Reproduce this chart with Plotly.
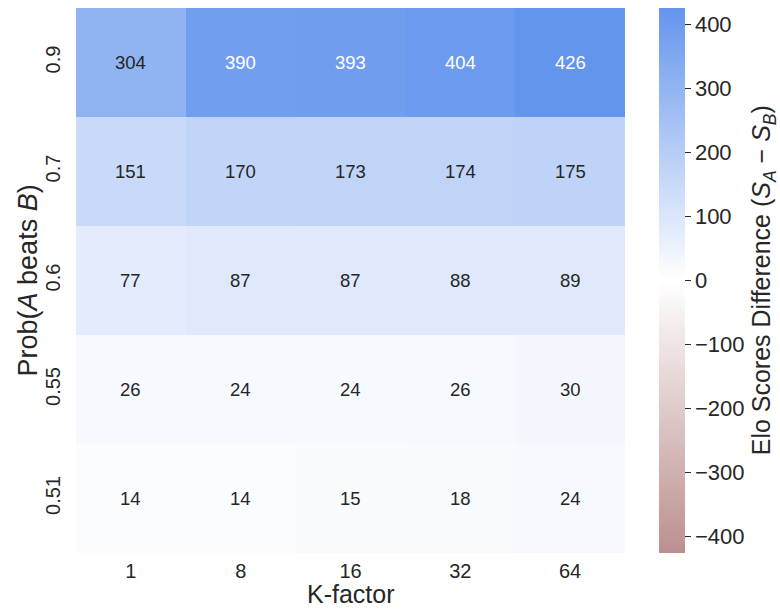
import plotly.graph_objects as go

k_factors = ["1", "8", "16", "32", "64"]
probs = ["0.51", "0.55", "0.6", "0.7", "0.9"]  # bottom to top
row_051 = [14, 14, 15, 18, 24]
row_055 = [26, 24, 24, 26, 30]
row_06 = [77, 87, 87, 88, 89]
row_07 = [151, 170, 173, 174, 175]
row_09 = [304, 390, 393, 404, 426]
z = [row_051, row_055, row_06, row_07, row_09]
cb_ticks = [-400, -300, -200, -100, 0, 100, 200, 300, 400]

vmax = max(max(r) for r in z)
vmin = -vmax

low = (188, 143, 143)
mid = (255, 255, 255)
high = (100, 149, 237)
colorscale = [[0.0, "rgb(188,143,143)"], [0.5, "rgb(255,255,255)"], [1.0, "rgb(100,149,237)"]]

def cell_rgb(v):
    t = (v - vmin) / (vmax - vmin)
    if t <= 0.5:
        a, b, f = low, mid, t / 0.5
    else:
        a, b, f = mid, high, (t - 0.5) / 0.5
    return [(a[i] + (b[i] - a[i]) * f) / 255 for i in range(3)]

def luminance(rgb):
    out = []
    for c in rgb:
        out.append(c / 12.92 if c <= 0.03928 else ((c + 0.055) / 1.055) ** 2.4)
    return 0.2126 * out[0] + 0.7152 * out[1] + 0.0722 * out[2]

FONT = "Liberation Sans, Arial, sans-serif"
TXT = "#262626"

fig = go.Figure()
fig.add_trace(go.Heatmap(
    x=k_factors, y=probs, z=z,
    zmin=vmin, zmax=vmax,
    colorscale=colorscale,
    xgap=0, ygap=0,
    hoverinfo="skip",
    colorbar=dict(
        x=1.062, xanchor="left", xpad=0,
        y=0.5, yanchor="middle", ypad=0,
        len=1, lenmode="fraction",
        thickness=26,
        outlinewidth=0,
        tickvals=cb_ticks,
        ticks="outside", ticklen=6, tickwidth=1, tickcolor=TXT,
        tickfont=dict(family=FONT, size=22, color=TXT),
    ),
))

annotations = []
for yi, p in enumerate(probs):
    for xi, k in enumerate(k_factors):
        v = z[yi][xi]
        col = TXT if luminance(cell_rgb(v)) > 0.408 else "#ffffff"
        annotations.append(dict(
            x=xi, y=yi, xref="x", yref="y", text=str(v), showarrow=False,
            font=dict(family=FONT, size=18.5, color=col),
        ))

# colorbar title
annotations.append(dict(
    x=1.251, y=0.5, xref="paper", yref="paper", xanchor="center", yanchor="middle",
    textangle=-90, showarrow=False, borderpad=0,
    text="Elo Scores Difference (<i>S</i><sub><i>A</i></sub> − <i>S</i><sub><i>B</i></sub>)",
    font=dict(family=FONT, size=25, color=TXT),
))
# y axis title
annotations.append(dict(
    x=-0.0875, y=0.5, xref="paper", yref="paper", xanchor="center", yanchor="middle",
    textangle=-90, showarrow=False, borderpad=0,
    text="Prob(<i>A</i> beats <i>B</i>)",
    font=dict(family=FONT, size=27, color=TXT),
))
# x axis title
annotations.append(dict(
    x=0.5, y=-0.076, xref="paper", yref="paper", xanchor="center", yanchor="middle",
    showarrow=False, borderpad=0, text="K-factor",
    font=dict(family=FONT, size=25, color=TXT),
))

fig.update_layout(
    width=780, height=609,
    margin=dict(l=76, r=155, t=8, b=56),
    paper_bgcolor="white", plot_bgcolor="white",
    annotations=annotations,
    xaxis=dict(
        type="category", showgrid=False, zeroline=False, showline=False,
        automargin=False,
        range=[-0.5, len(k_factors) - 0.5],
        ticks="", ticklabelstandoff=4,
        tickfont=dict(family=FONT, size=20, color=TXT),
    ),
    yaxis=dict(
        type="category", showgrid=False, zeroline=False, showline=False,
        automargin=False,
        range=[-0.5, len(probs) - 0.5],
        ticks="", tickangle=-90, ticklabelstandoff=11,
        tickfont=dict(family=FONT, size=20, color=TXT),
    ),
)

fig.write_html("out.html")
